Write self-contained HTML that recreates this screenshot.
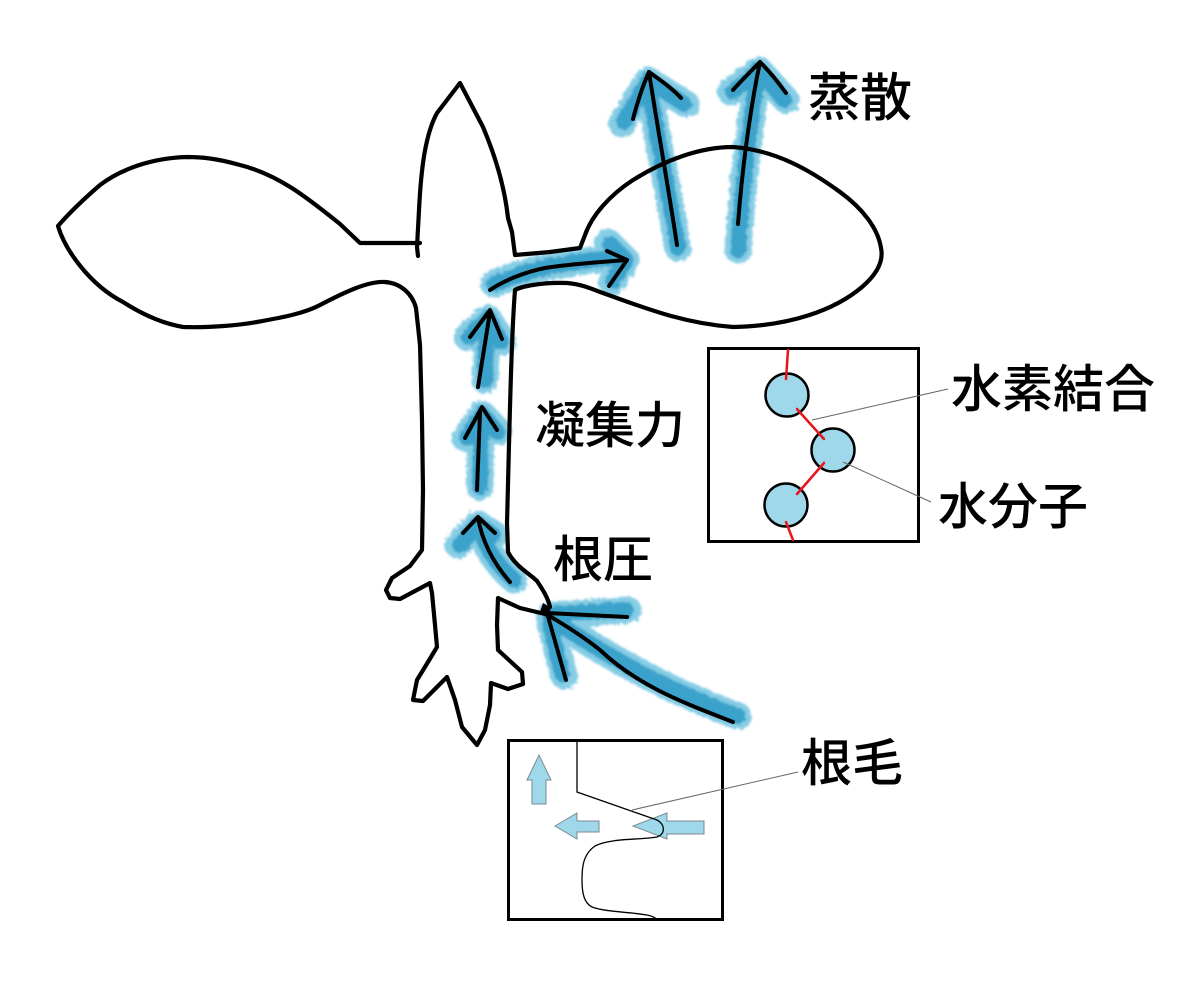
<!DOCTYPE html>
<html><head><meta charset="utf-8"><style>
html,body{margin:0;padding:0;background:#fff;}
svg{display:block;}
text{font-family:"Liberation Sans","Noto Sans CJK JP",sans-serif;fill:#000;font-weight:500;}
</style></head><body>
<svg width="1200" height="1003" viewBox="0 0 1200 1003" xmlns="http://www.w3.org/2000/svg">
<defs>
<filter id="mk" x="-20%" y="-20%" width="140%" height="140%">
<feTurbulence type="fractalNoise" baseFrequency="0.25" numOctaves="2" seed="3" result="n"/>
<feDisplacementMap in="SourceGraphic" in2="n" scale="6" result="d"/>
<feGaussianBlur in="d" stdDeviation="1"/>
</filter>
</defs>
<rect width="1200" height="1003" fill="#fff"/>

<!-- blue marker strokes -->
<g filter="url(#mk)" fill="none" stroke-linecap="round" stroke-linejoin="round">
 <g stroke="#86cde5" stroke-width="27">
  <path d="M678,248 C668,190 656,130 648,82"/>
  <path d="M622,124 L648,80 L686,104"/>
  <path d="M738,250 C742,190 750,120 759,72"/>
  <path d="M731,92 L759,70 L786,100"/>
  <path d="M494,284 C530,268 570,262 612,258"/>
  <path d="M608,242 L626,260 L612,282"/>
  <path d="M485,380 L487,328"/>
  <path d="M467,337 L488,318 L503,342"/>
  <path d="M480,487 L481,422"/>
  <path d="M465,438 L482,414 L499,432"/>
  <path d="M514,580 C494,562 484,545 480,527"/>
  <path d="M458,545 L478,524 L495,535"/>
  <path d="M738,716 C680,695 620,665 550,618"/>
  <path d="M550,616 L628,610"/>
  <path d="M550,622 L564,676"/>
 </g>
 <g stroke="#3ba3cb" stroke-width="16">
  <path d="M678,248 C668,190 656,130 648,82"/>
  <path d="M624,122 L648,80 L684,104"/>
  <path d="M738,250 C742,190 750,120 759,72"/>
  <path d="M733,92 L759,70 L784,100"/>
  <path d="M494,284 C530,268 570,262 612,258"/>
  <path d="M610,244 L626,260 L613,280"/>
  <path d="M485,380 L487,328"/>
  <path d="M469,337 L488,318 L501,342"/>
  <path d="M480,487 L481,422"/>
  <path d="M467,438 L482,414 L497,432"/>
  <path d="M514,580 C494,562 484,545 480,527"/>
  <path d="M460,545 L478,524 L493,535"/>
  <path d="M738,716 C680,695 620,665 550,618"/>
  <path d="M552,614 L626,610"/>
  <path d="M550,624 L562,674"/>
 </g>
</g>

<!-- plant outline -->
<path fill="none" stroke="#000" stroke-width="4.2" stroke-linejoin="round" stroke-linecap="round"
d="M550,607 C548,598 543,590 537,581 C530,574 515,566 508,552 L507,523 C509,450 511,340 515,290 C520,287 540,282 567,283 C580,284 590,288 600,292 C640,306 680,323 733,327 C790,326 835,310 862,287 C876,275 884,262 881,248 C878,228 862,208 840,192 C810,170 775,150 733,147 C700,147 665,160 633,180 C610,195 592,215 585,235 L580,248 L550,252 L515,255 L512,232 L508,218 C505,190 497,160 483,127 L460,83 L437,113 C425,135 421,170 419,210 L417,247 L418,256"/>
<path fill="none" stroke="#000" stroke-width="4.2" stroke-linejoin="round" stroke-linecap="round"
d="M420,243 L360,243 L340,224 C310,200 280,175 240,165 C215,158 200,157 187,157 C150,158 120,170 100,185 C85,198 70,212 58,226 C65,250 90,285 123,302 C140,313 160,323 183,327 C210,328 240,325 257,322 C285,317 305,313 320,305 C345,292 368,281 385,282 C400,283 412,293 416,308 L420,345 L422,420 L423,490 L422,550 L410,566 L392,578 L386,590 L390,598 L400,599 L430,583 L432,593 L435,625 L437,647 L428,662 L417,680 L413,700 L423,701 L447,677 L455,700 L462,727 L477,745 L485,730 L490,705 L491,683 L508,689 L523,684 L522,672 L498,650 L497,625 L498,598 L520,608 L545,614"/>

<!-- black ink arrows -->
<g fill="none" stroke="#000" stroke-width="4" stroke-linecap="round" stroke-linejoin="round">
 <path d="M677,245 C668,185 657,125 649,72"/>
 <path d="M633,119 C638,100 643,85 649,72 C660,80 672,88 681,98"/>
 <path d="M738,224 C742,170 750,110 760,62"/>
 <path d="M733,90 C742,80 752,70 760,62 C770,72 778,82 786,93"/>
 <path d="M490,290 C505,280 525,272 545,268 C570,264 600,262 627,260"/>
 <path d="M607,251 L627,260 L609,286"/>
 <path d="M478,387 L490,312"/>
 <path d="M470,337 L490,310 L502,339"/>
 <path d="M477,490 L480,413"/>
 <path d="M465,438 L482,407 L497,430"/>
 <path d="M510,582 C495,565 483,545 478,518"/>
 <path d="M463,533 L478,517 L495,533"/>
 <path d="M733,722 C690,705 640,688 600,650 C575,630 555,620 545,613"/>
 <path d="M627,617 L547,613 L566,680"/>
</g>
<path d="M543,603 L551,608 L547,618 L540,612 Z" fill="#000"/>

<!-- molecule box -->
<rect x="708.5" y="348.5" width="210" height="193" fill="none" stroke="#000" stroke-width="3"/>
<g fill="#9ed8ea" stroke="#000" stroke-width="2.5">
 <circle cx="787" cy="395" r="21.5"/>
 <circle cx="833" cy="450" r="21.5"/>
 <circle cx="786" cy="505" r="21.5"/>
</g>
<g stroke="#e8141c" stroke-width="2.5" stroke-linecap="round">
 <line x1="788" y1="350" x2="786" y2="379"/>
 <line x1="797" y1="409" x2="805" y2="418"/>
 <line x1="805" y1="418" x2="824" y2="439"/>
 <line x1="824" y1="463" x2="797" y2="494"/>
 <line x1="786" y1="522" x2="793" y2="540"/>
</g>
<line x1="812" y1="420" x2="948" y2="389" stroke="#666" stroke-width="1"/>
<line x1="843" y1="462" x2="931" y2="502" stroke="#666" stroke-width="1"/>

<!-- root hair box -->
<rect x="508.5" y="740.5" width="214" height="179" fill="none" stroke="#000" stroke-width="3"/>
<g fill="#9ed8ea" stroke="#7a8a90" stroke-width="1">
 <path d="M539,755 L551,780 L546,780 L546,804 L532,804 L532,780 L527,780 Z"/>
 <path d="M555,826 L577,813 L577,821 L599,821 L599,832 L577,832 L577,839 Z"/>
 <path d="M633,826 L667,813 L667,821 L704,821 L704,834 L667,834 L667,839 Z"/>
</g>
<path d="M577,740 L577,792 L657,820 C665,824 666,834 657,837 C640,840 610,838 595,846 C582,855 582,870 582,880 C582,893 584,903 592,907 C605,912 630,912 647,915 C652,916 656,918 657,920" fill="none" stroke="#000" stroke-width="1.3"/>
<line x1="632" y1="810" x2="798" y2="772" stroke="#666" stroke-width="1"/>

<!-- labels -->
<text x="808" y="116" font-size="52">蒸散</text>
<text x="535" y="443" font-size="50">凝集力</text>
<text x="553" y="577" font-size="50">根圧</text>
<text x="951" y="407" font-size="51">水素結合</text>
<text x="938" y="524" font-size="50">水分子</text>
<text x="801" y="781" font-size="51">根毛</text>
</svg>
</body></html>
